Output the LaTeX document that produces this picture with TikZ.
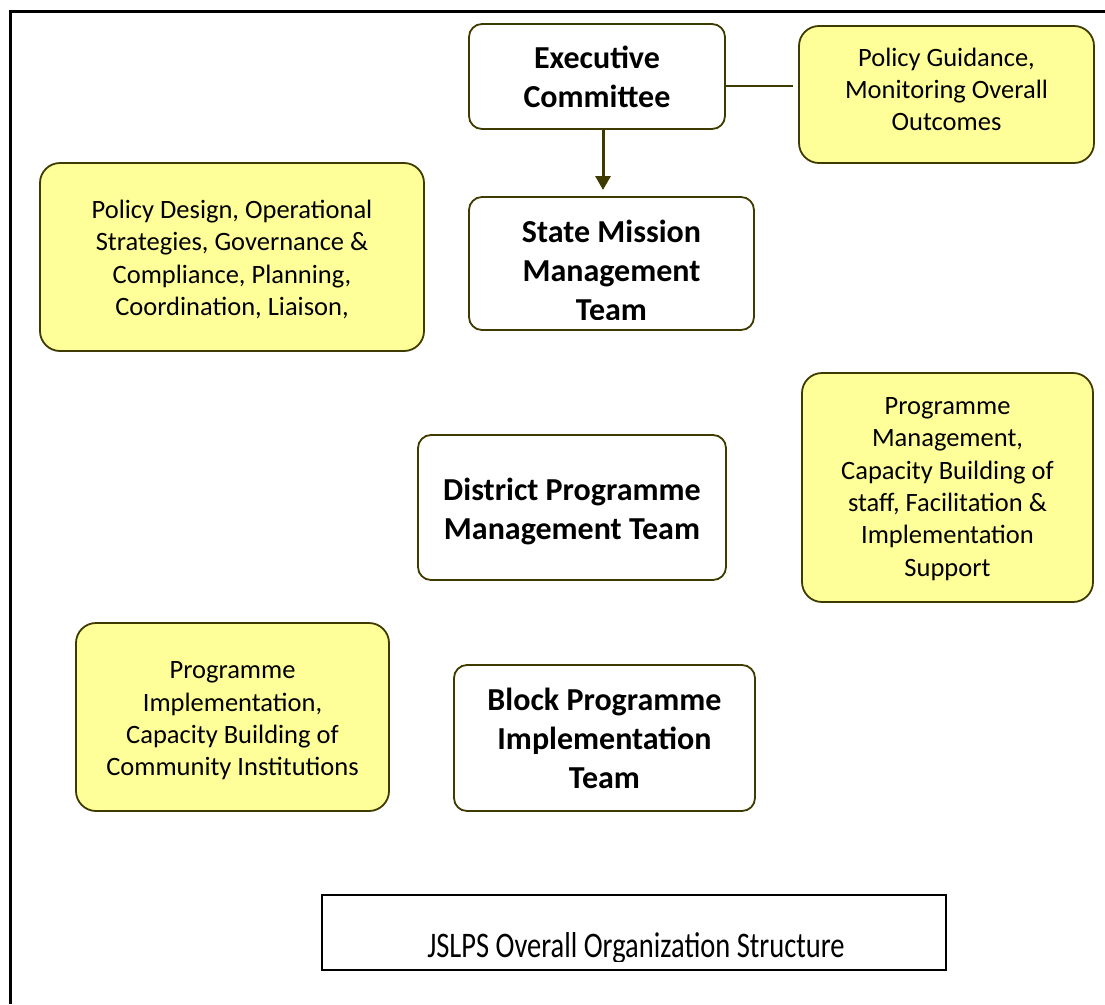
\documentclass[tikz,border=0pt]{standalone}
\usepackage{fontspec}
\setmainfont{Carlito}
\usetikzlibrary{arrows.meta}
\definecolor{olive}{HTML}{3F3B00}
\definecolor{paleyellow}{HTML}{FFFF99}
\tikzset{
  boldtext/.style={font=\fontsize{32}{39}\selectfont\bfseries, align=center, inner sep=0pt},
  plaintext/.style={font=\fontsize{26.5}{32.3}\selectfont, align=center, inner sep=0pt},
  whitebox/.style={draw=olive, line width=1.8pt, rounded corners=13pt, fill=white, boldtext},
  yellowbox/.style={draw=olive, line width=1.8pt, rounded corners=20pt, fill=paleyellow, plaintext},
  capbox/.style={draw=black, line width=1.8pt, fill=white, inner sep=0pt},
  link/.style={draw=olive, line width=1.3pt},
  arrowlink/.style={draw=olive, line width=3pt, -{Triangle[length=14pt,width=15pt]}},
  frame/.style={draw=black, line width=3pt}
}
\begin{document}
\begin{tikzpicture}[x=1pt,y=-1pt]
\useasboundingbox (0,0) rectangle (1105,1004);
\draw[frame] (10,1004) -- (10,11) -- (1105,11);

\node[whitebox, minimum width=256pt, minimum height=105pt] (exec) at (597,76.5)
  {Executive\\Committee};
\node[yellowbox, minimum width=295pt, minimum height=137pt] (guide) at (946.5,94.5) {};
\node[plaintext] (guidetext) at (946.5,89.5)
  {Policy Guidance,\\Monitoring Overall\\Outcomes};
\node[whitebox, minimum width=285pt, minimum height=133pt] (state) at (611.5,263.5) {};
\begin{scope}
  \clip (460,190) rectangle (770,319);
  \node[boldtext] (statetext) at (611.5,270)
    {State Mission\\Management\\Team};
\end{scope}
\node[yellowbox, minimum width=384pt, minimum height=188pt] (design) at (232,257) {};
\node[plaintext] (designtext) at (232,259.5)
  {Policy Design, Operational\\Strategies, Governance \&\\Compliance, Planning,\\Coordination, Liaison,};
\node[whitebox, minimum width=308pt, minimum height=145pt] (district) at (572,507.5) {};
\node[boldtext] (districttext) at (572,511.5)
  {District Programme\\Management Team};
\node[yellowbox, minimum width=291pt, minimum height=229pt] (pm) at (947.5,487.5) {};
\node[plaintext] (pmtext) at (947.5,489)
  {Programme\\Management,\\Capacity Building of\\staff, Facilitation \&\\Implementation\\Support};
\node[yellowbox, minimum width=313pt, minimum height=188pt] (pi) at (232.5,717) {};
\node[plaintext] (pitext) at (232.5,721)
  {Programme\\Implementation,\\Capacity Building of\\Community Institutions};
\node[whitebox, minimum width=301pt, minimum height=146pt] (block) at (604.5,738)
  {Block Programme\\Implementation\\Team};
\node[capbox, minimum width=624pt, minimum height=75pt] (cap) at (634,932.5) {};
\begin{scope}
  \clip (330,900) rectangle (940,961);
  \node[font=\fontsize{30}{33}\selectfont, inner sep=0pt, anchor=base] (captext) at (636,957)
    {\scalebox{0.95}[1.2]{JSLPS Overall Organization Structure}};
\end{scope}

\coordinate (gl) at (793,86);
\draw[link] (exec.east |- gl) -- (gl);
\coordinate (atip) at (603,190);
\draw[arrowlink] (exec.south -| atip) -- (atip);
\end{tikzpicture}
\end{document}
